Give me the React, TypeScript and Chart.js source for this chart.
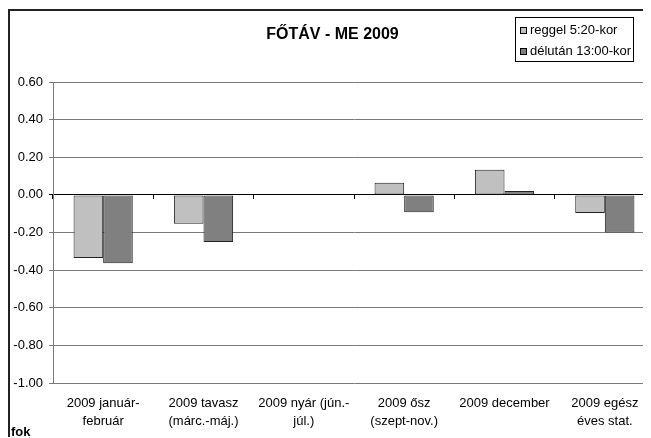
import React, { useEffect, useRef } from "react";
import { Chart, registerables } from "chart.js";

Chart.register(...registerables);

const chartTitle = "FŐTÁV - ME 2009";
const unitLabel = "fok";
const categories: string[][] = [
  ["2009 január-", "február"],
  ["2009 tavasz", "(márc.-máj.)"],
  ["2009 nyár (jún.-", "júl.)"],
  ["2009 ősz", "(szept-nov.)"],
  ["2009 december"],
  ["2009 egész", "éves stat."],
];
const seriesNames = ["reggel 5:20-kor", "délután 13:00-kor"];
const reggel: (number | null)[] = [-0.336, -0.154, null, 0.065, 0.133, -0.097];
const delutan: (number | null)[] = [-0.363, -0.25, null, -0.092, 0.02, -0.2];
const yMin = -1.0;
const yMax = 0.6;
const yStep = 0.2;

const FONT = "'Liberation Sans', Arial, sans-serif";

const decorPlugin = {
  id: "decor",
  afterDraw(chart: any) {
    const ctx = chart.ctx as CanvasRenderingContext2D;
    ctx.save();
    // legend box
    ctx.font = `13px ${FONT}`;
    const ds = chart.data.datasets;
    let maxW = 0;
    ds.forEach((d: any) => {
      maxW = Math.max(maxW, ctx.measureText(d.label).width);
    });
    const sq = 6;
    const padL = 5;
    const gap = 3;
    const padR = 3;
    const right = 623;
    const top = 6;
    const rowH = 21;
    const boxW = padL + sq + gap + maxW + padR;
    const left = right - boxW;
    const boxH = 44;
    ctx.fillStyle = "#ffffff";
    ctx.fillRect(left, top, boxW, boxH);
    ctx.strokeStyle = "#000000";
    ctx.lineWidth = 1;
    ctx.strokeRect(Math.round(left) + 0.5, top + 0.5, Math.round(boxW), boxH);
    ds.forEach((d: any, i: number) => {
      const cy = top + 13 + i * rowH;
      const sx = Math.round(left + padL);
      ctx.fillStyle = d.backgroundColor;
      ctx.fillRect(sx, cy - sq / 2, sq, sq);
      ctx.strokeStyle = "#000000";
      ctx.strokeRect(sx + 0.5, Math.round(cy - sq / 2) + 0.5, sq, sq);
      ctx.fillStyle = "#000000";
      ctx.textBaseline = "middle";
      ctx.textAlign = "left";
      ctx.fillText(d.label, sx + sq + gap + 1, cy);
    });
    // unit label
    ctx.font = `bold 13px ${FONT}`;
    ctx.fillStyle = "#000000";
    ctx.textBaseline = "middle";
    ctx.textAlign = "left";
    ctx.fillText(unitLabel, 1, 421);
    ctx.restore();
  },
};

export default function App() {
  const ref = useRef<HTMLCanvasElement | null>(null);

  useEffect(() => {
    if (!ref.current) return;
    const chart = new Chart(ref.current, {
      type: "bar",
      data: {
        labels: categories,
        datasets: [
          {
            label: seriesNames[0],
            data: reggel,
            backgroundColor: "#c0c0c0",
            borderColor: "#222222",
            borderWidth: 1,
            borderSkipped: false,
          },
          {
            label: seriesNames[1],
            data: delutan,
            backgroundColor: "#808080",
            borderColor: "#222222",
            borderWidth: 1,
            borderSkipped: false,
          },
        ],
      },
      options: {
        animation: false,
        responsive: false,
        maintainAspectRatio: false,
        devicePixelRatio: 1,
        datasets: {
          bar: { categoryPercentage: 0.59, barPercentage: 1.0 },
        },
        layout: { padding: { left: 0, right: 10, top: 0, bottom: 0 } },
        plugins: {
          legend: { display: false },
          tooltip: { enabled: false },
          title: {
            display: true,
            text: chartTitle,
            color: "#000000",
            font: { family: FONT, size: 16, weight: "bold", lineHeight: 1.2 },
            padding: { top: 14.4, bottom: 37.4 },
          },
        },
        scales: {
          x: {
            type: "category",
            position: "bottom",
            offset: true,
            grid: { display: false, drawTicks: false },
            border: { display: false },
            ticks: {
              color: "#000000",
              font: { family: FONT, size: 13, lineHeight: 1.4 },
              padding: 11,
              maxRotation: 0,
              autoSkip: false,
            },
            afterFit(scale: any) {
              scale.height = 55;
            },
          },
          x2: {
            type: "category",
            position: { y: 0 } as any,
            offset: true,
            grid: {
              display: true,
              offset: true,
              drawOnChartArea: false,
              drawTicks: true,
              tickLength: 4,
              color: "#000000",
            },
            border: { display: true, color: "#000000", width: 1 },
            ticks: { display: false },
          },
          y: {
            type: "linear",
            min: yMin,
            max: yMax,
            ticks: {
              stepSize: yStep,
              color: "#000000",
              font: { family: FONT, size: 13 },
              padding: 6,
              callback: (v: any) => Number(v).toFixed(2),
            },
            grid: {
              color: (c: any) => (c.tick && Math.abs(c.tick.value) < 1e-9 ? "#000000" : "#7a7a7a"),
              lineWidth: 1,
              drawTicks: true,
              tickLength: 4,
            },
            border: { display: true, color: "#7a7a7a", width: 1 },
            afterFit(scale: any) {
              scale.width = 43;
            },
          },
        },
      },
      plugins: [decorPlugin],
    } as any);
    return () => chart.destroy();
  }, []);

  return (
    <div
      style={{
        position: "relative",
        top: 1,
        width: 641,
        height: 427,
        overflow: "hidden",
        borderLeft: "2px solid #222222",
        borderTop: "2px solid #222222",
        background: "#ffffff",
      }}
    >
      <canvas ref={ref} width={655} height={427} style={{ display: "block", width: 655, height: 427 }} />
    </div>
  );
}
